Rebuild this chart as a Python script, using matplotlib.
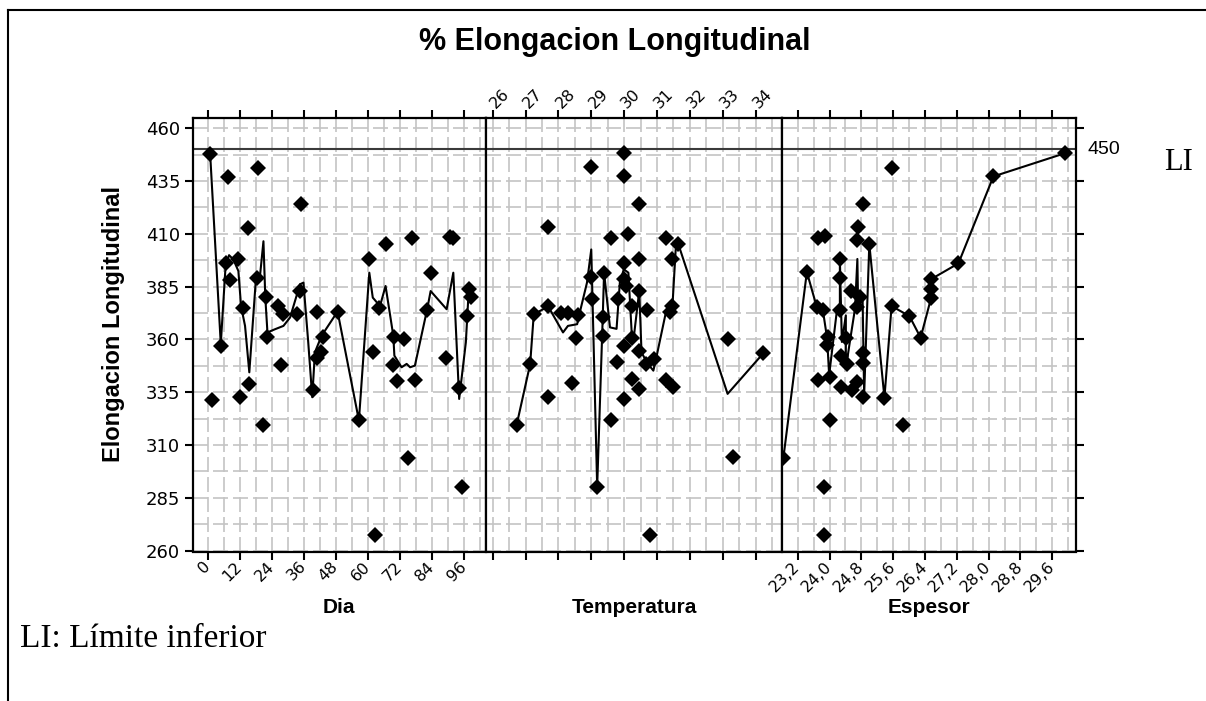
import matplotlib
matplotlib.use('Agg')
import matplotlib.pyplot as plt
from matplotlib.lines import Line2D
from matplotlib.ticker import FixedLocator, FixedFormatter

# ---------------- data ----------------
y_ticks = [260, 285, 310, 335, 360, 385, 410, 435, 460]
limite_inferior = 450

dia_ticks = [0, 12, 24, 36, 48, 60, 72, 84, 96]
dia_x = [0.9, 7.5, 19, 35, 15, 6.8, 11.5, 8.4, 13.4, 18.4, 21.9, 4.9, 22.4, 26.5, 28.4,
         33.4, 34.6, 27.5, 40.9, 43.4, 42.5, 40.9, 39.4, 48.7, 1.5, 12.1, 15.6, 20.6,
         56.7, 75, 95.2, 62.7, 60.6, 66.7, 76.7, 91, 92, 83.6, 97.9, 98.8, 64.3, 82.3,
         97.1, 70, 73.7, 61.9, 69.4, 89.2, 71.1, 77.7, 94.3]
dia_y = [448, 437, 441, 424, 413, 396, 398, 388, 375, 389, 380, 357, 361, 376, 372,
         372, 383, 348, 373, 361, 354, 351, 336, 373, 331.5, 332.6, 339, 319.6,
         321.6, 304, 290, 267.4, 398, 405, 408, 408.4, 408, 391.6, 384, 380, 375, 374,
         371, 361, 360, 354, 348, 351, 340.5, 341, 337]
dia_line_x = [0.9, 4.9, 6.7, 8.0, 9.6, 11.5, 12.5, 14.0, 15.6, 18.1, 19.6, 20.9, 21.6,
              22.4, 25.2, 28.4, 30.9, 34.6, 35.9, 37.7, 39.2, 40.2, 42.7, 48.7, 56.7,
              60.6, 61.9, 64.6, 66.7, 69.6, 70.0, 72.7, 74.6, 75.9, 77.7, 82.3, 83.6,
              89.6, 92.1, 94.3, 96.8, 97.9]
dia_line_y = [448.2, 357.8, 394.7, 399.9, 397.9, 392.4, 375.8, 366.4, 344.4, 389.2, 390,
              406.5, 379.8, 363.3, 364.8, 366.4, 370.4, 386.1, 386.9, 358.6, 332.6,
              353.9, 361.7, 373.2, 321.6, 391.6, 379.8, 375.8, 385.3, 361.7, 352.3,
              346.8, 348.4, 346.8, 347.6, 374.3, 382.9, 374.3, 391.6, 331.8, 358.6, 383.7]

temp_ticks = [26, 27, 28, 29, 30, 31, 32, 33, 34]
temp_x = [29.99, 28.99, 29.99, 30.46, 27.69, 29.59, 30.13, 31.27, 31.63, 30.46, 31.46,
          29.99, 29.39, 28.99, 29.99, 30.05, 30.46, 29.01, 29.80, 30.23, 30.69, 31.47,
          31.41, 27.69, 27.25, 28.09, 28.29, 28.60, 29.35, 28.54, 29.35, 30.23, 29.99,
          30.46, 27.14, 29.77, 30.66, 30.91, 33.15, 34.24, 28.41, 30.25, 31.27, 31.49,
          30.46, 27.69, 29.99, 26.73, 29.59, 29.18, 30.80, 33.31]
temp_y = [448.2, 441.6, 437.2, 424.3, 413.3, 408.1, 409.8, 408.1, 405, 398.2, 398.2,
          396.3, 391.6, 389.7, 388.5, 385.3, 383, 379.3, 379.3, 375.6, 374, 375.6,
          373, 375.6, 371.9, 372.7, 372.7, 371.4, 370.8, 360.9, 361.7, 360.9, 357,
          354.6, 348.3, 349.1, 348.3, 350.6, 360.1, 353.5, 339.4, 341.3, 341, 337.4,
          336.3, 332.6, 331.8, 319.6, 321.6, 290.2, 267.4, 304.3]
temp_line_x = [26.73, 27.14, 27.25, 27.69, 28.14, 28.29, 28.57, 28.63, 28.87, 29.0,
               29.18, 29.35, 29.39, 29.57, 29.77, 29.87, 29.99, 30.13, 30.23, 30.30,
               30.46, 30.53, 30.69, 30.89, 30.97, 31.29, 31.47, 31.57, 31.67, 33.15, 34.24]
temp_line_y = [319.6, 348.3, 371.9, 375.6, 363.3, 366.4, 367.2, 371.4, 386.9, 402.6,
               290.2, 370.8, 391.6, 365.7, 365, 386.9, 393.2, 391.6, 363.3, 361.7,
               383, 353.9, 349.1, 345.2, 350.6, 374.2, 375.6, 402.6, 404.2, 334.2, 353.5]

esp_ticks = [23.2, 24.0, 24.8, 25.6, 26.4, 27.2, 28.0, 28.8, 29.6]
esp_labels = ['23,2', '24,0', '24,8', '25,6', '26,4', '27,2', '28,0', '28,8', '29,6']
esp_x = [29.92, 28.12, 25.56, 24.83, 24.72, 23.70, 23.89, 24.70, 25.00, 23.43, 24.26,
         24.26, 27.24, 26.55, 26.55, 26.55, 24.54, 24.77, 24.70, 23.68, 23.84, 24.26,
         25.56, 26.01, 26.29, 23.97, 24.41, 23.93, 24.28, 24.45, 24.83, 24.83, 23.72,
         24.0, 24.28, 24.56, 24.70, 24.83, 25.38, 22.84, 24.0, 25.84, 23.87, 23.87]
esp_y = [448.2, 437.2, 441.4, 424.1, 413.3, 408.1, 408.9, 407.3, 405, 391.9, 397.9,
         389.2, 396, 388.5, 383.8, 379.4, 383.1, 380, 375.3, 375.3, 373.7, 373.7,
         375.8, 371, 360.8, 361, 360.6, 357.2, 352, 348.4, 353.6, 348.6, 341, 342.1,
         337.4, 335.8, 339.9, 332.7, 332.4, 303.9, 321.7, 319.6, 290.2, 267.4]
esp_line_x = [22.84, 23.43, 23.68, 23.84, 23.94, 23.99, 24.09, 24.18, 24.26, 24.26,
              24.31, 24.41, 24.41, 24.51, 24.64, 24.70, 24.72, 24.83, 24.87, 25.00,
              25.38, 25.56, 26.01, 26.29, 26.55, 26.55, 27.24, 28.12, 29.92]
esp_line_y = [303.9, 391.9, 375.3, 372.9, 360.4, 343.1, 358.8, 372.9, 374.5, 398.1,
              358.8, 371.4, 346.2, 358.8, 374.5, 398.1, 374.5, 380.8, 333.6, 405.2,
              332.4, 375.8, 371, 360.8, 379.4, 388.5, 396, 437.2, 448.2]

# ---------------- figure ----------------
W, H = 1206, 701
fig = plt.figure(figsize=(W / 100, H / 100), dpi=100)
plt.rcParams['font.family'] = ['DejaVu Sans']


def fx(x):
    return x / W


def fy(y):
    return 1 - y / H


TOP, BOT = 118, 551.5


def add_ax(x0, x1):
    return fig.add_axes([fx(x0), fy(BOT), (x1 - x0) / W, (BOT - TOP) / H])


ax1 = add_ax(192.7, 486)
ax2 = add_ax(486, 782)
ax3 = add_ax(782, 1076)

xlims = [(-5.63, 104.36), (25.796, 34.806), (22.805, 30.196)]
major = [dia_ticks, temp_ticks, esp_ticks]
minor = [[t + 6 for t in dia_ticks],
         [t + 0.5 for t in temp_ticks],
         [round(t + 0.4, 1) for t in esp_ticks]]
y_minor = [t + 12.5 for t in y_ticks[:-1]]

grid_kw = dict(color='#c4c4c4', linestyle=(0, (9, 3)), linewidth=1.2)

for ax, xl, mj, mn in zip([ax1, ax2, ax3], xlims, major, minor):
    ax.set_xlim(*xl)
    ax.set_ylim(259.53, 464.88)
    ax.set_facecolor('white')
    ax.set_axisbelow(True)
    ax.xaxis.set_major_locator(FixedLocator(mj))
    ax.xaxis.set_minor_locator(FixedLocator(mn))
    ax.yaxis.set_major_locator(FixedLocator(y_ticks))
    ax.yaxis.set_minor_locator(FixedLocator(y_minor))
    ax.grid(True, which='both', **grid_kw)
    for sp in ax.spines.values():
        sp.set_linewidth(1.6)
        sp.set_color('black')
    ax.tick_params(which='minor', length=0)
    ax.tick_params(which='major', direction='out', length=6, width=1.5,
                   top=True, bottom=True, left=False, right=False,
                   labelleft=False, labelright=False, labeltop=False,
                   labelbottom=False)
    ax.axhline(limite_inferior, color='#3a3a3a', linewidth=1.5, zorder=2)

# y axis ticks
ax1.tick_params(axis='y', which='major', left=True, labelleft=True, labelsize=13, pad=3)
ax3.tick_params(axis='y', which='major', right=True)

# x tick labels
ax1.tick_params(axis='x', which='major', labelbottom=True, labelsize=11.5, pad=3)
ax1.set_xticklabels([str(t) for t in dia_ticks])
for lab in ax1.get_xticklabels():
    lab.set_rotation(45)
    lab.set_ha('right')
    lab.set_va('center')
    lab.set_rotation_mode('anchor')

ax2.tick_params(axis='x', which='major', labeltop=True, labelsize=11.5, pad=3)
ax2.set_xticklabels([str(t) for t in temp_ticks])
for lab in ax2.get_xticklabels():
    lab.set_rotation(45)
    lab.set_ha('left')
    lab.set_va('center')
    lab.set_rotation_mode('anchor')

ax3.tick_params(axis='x', which='major', labelbottom=True, labelsize=11.5, pad=3)
ax3.xaxis.set_major_formatter(FixedFormatter(esp_labels))
for lab in ax3.get_xticklabels():
    lab.set_rotation(45)
    lab.set_ha('right')
    lab.set_va('center')
    lab.set_rotation_mode('anchor')

# data
for ax, mx, my, lx, ly in [(ax1, dia_x, dia_y, dia_line_x, dia_line_y),
                           (ax2, temp_x, temp_y, temp_line_x, temp_line_y),
                           (ax3, esp_x, esp_y, esp_line_x, esp_line_y)]:
    ax.plot(lx, ly, color='black', linewidth=1.5, zorder=3, clip_on=True)
    ax.plot(mx, my, linestyle='none', marker='D', markersize=8, color='black',
            markeredgewidth=0, zorder=4)

# texts
sans = 'Liberation Sans'
serif = 'Liberation Serif'
fig.text(fx(615), fy(42), '% Elongacion Longitudinal', ha='center', va='center',
         fontsize=22, fontweight='bold', family=sans)
fig.text(fx(114), fy(324), 'Elongacion Longitudinal', rotation=90, ha='center',
         va='center', fontsize=17, fontweight='bold', family=sans)
for xc, txt in [(339, 'Dia'), (634, 'Temperatura'), (929, 'Espesor')]:
    fig.text(fx(xc), fy(613), txt, ha='center', va='baseline', fontsize=15,
             fontweight='bold', family=sans)
fig.text(fx(1088), fy(150), '450', ha='left', va='center', fontsize=14, family=sans)
fig.text(fx(1164), fy(170), 'LI', ha='left', va='baseline', fontsize=22, family=serif)
fig.text(fx(20), fy(647), 'LI: Límite inferior', ha='left', va='baseline', fontsize=24,
         family=serif)

# document frame
fig.add_artist(Line2D([fx(8), fx(1206)], [fy(10), fy(10)], color='black', linewidth=1.5))
fig.add_artist(Line2D([fx(8), fx(8)], [fy(10), fy(701)], color='black', linewidth=1.5))

fig.savefig('out.png', dpi=100, facecolor='white')
